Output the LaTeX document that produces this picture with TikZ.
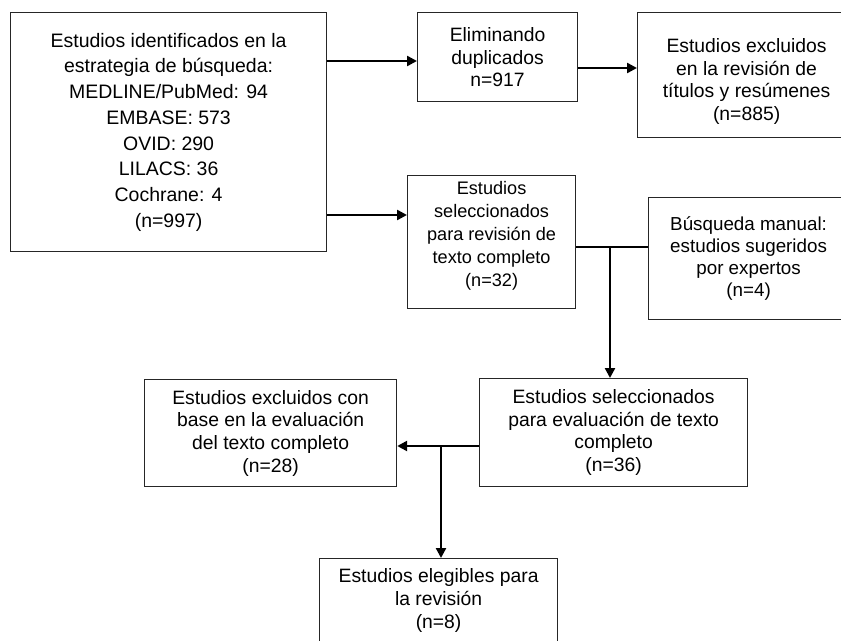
\documentclass[tikz,border=0pt]{standalone}
\usepackage{fontspec}
\setmainfont{Liberation Sans}
\usetikzlibrary{arrows.meta}
\begin{document}
\begin{tikzpicture}[x=0.75pt,y=-0.75pt,
  box/.style={draw=black!85, line width=0.9pt, align=center, inner sep=0pt, anchor=north west,
    font=\fontsize{14.5}{17}\selectfont},
  conn/.style={line width=1.8pt},
  arr/.style={conn, -{Triangle[length=7.5pt,width=7.5pt]}}]
\useasboundingbox (0,0) rectangle (841,641);
\clip (0,0) rectangle (841,641);
\fill[white] (0,0) rectangle (841,641);
% boxes
\node[box, minimum width={316*0.75pt}, minimum height={239*0.75pt}, font=\fontsize{14.6}{19.3}\selectfont] (A) at (10,12)
  {Estudios identificados en la\\estrategia de búsqueda:\\MEDLINE/PubMed: 94\\EMBASE: 573\\OVID: 290\\LILACS: 36\\Cochrane: 4\\(n=997)};
\node[box, minimum width={160*0.75pt}, minimum height={89*0.75pt}] (B) at (417,12)
  {Eliminando\\duplicados\\n=917};
\node[box, minimum width={218*0.75pt}, minimum height={125*0.75pt}] (D) at (637,12)
  {\rule{0pt}{20pt}Estudios excluidos\\en la revisión de\\títulos y resúmenes\\(n=885)};
\node[box, minimum width={168*0.75pt}, minimum height={133*0.75pt}, font=\fontsize{13.6}{17.2}\selectfont] (C) at (407,175)
  {Estudios\\seleccionados\\para revisión de\\texto completo\\(n=32)\\[-5pt]\mbox{}};
\node[box, minimum width={200*0.75pt}, minimum height={122*0.75pt}, font=\fontsize{14.1}{16.6}\selectfont] (E) at (648,197)
  {Búsqueda manual:\\estudios sugeridos\\por expertos\\(n=4)};
\node[box, minimum width={268*0.75pt}, minimum height={108*0.75pt}] (F) at (479,378)
  {Estudios seleccionados\\para evaluación de texto\\completo\\(n=36)};
\node[box, minimum width={252*0.75pt}, minimum height={107*0.75pt}] (G) at (144,379)
  {Estudios excluidos con\\base en la evaluación\\del texto completo\\(n=28)};
\node[box, minimum width={238*0.75pt}, minimum height={84*0.75pt}] (H) at (319,558)
  {Estudios elegibles para\\la revisión\\(n=8)};
% connectors
\coordinate (yAB) at (0,61);
\coordinate (yBD) at (0,68);
\coordinate (yAC) at (0,215);
\coordinate (j1) at (610,247);
\coordinate (j2) at (441,446);
\draw[arr] (A.east |- yAB) -- (B.west |- yAB);
\draw[arr] (B.east |- yBD) -- (D.west |- yBD);
\draw[arr] (A.east |- yAC) -- (C.west |- yAC);
\draw[conn] (C.east |- j1) -- (E.west |- j1);
\draw[arr] (j1) -- (F.north -| j1);
\draw[arr] (F.west |- j2) -- (G.east |- j2);
\draw[arr] (j2) -- (H.north -| j2);
\end{tikzpicture}
\end{document}
